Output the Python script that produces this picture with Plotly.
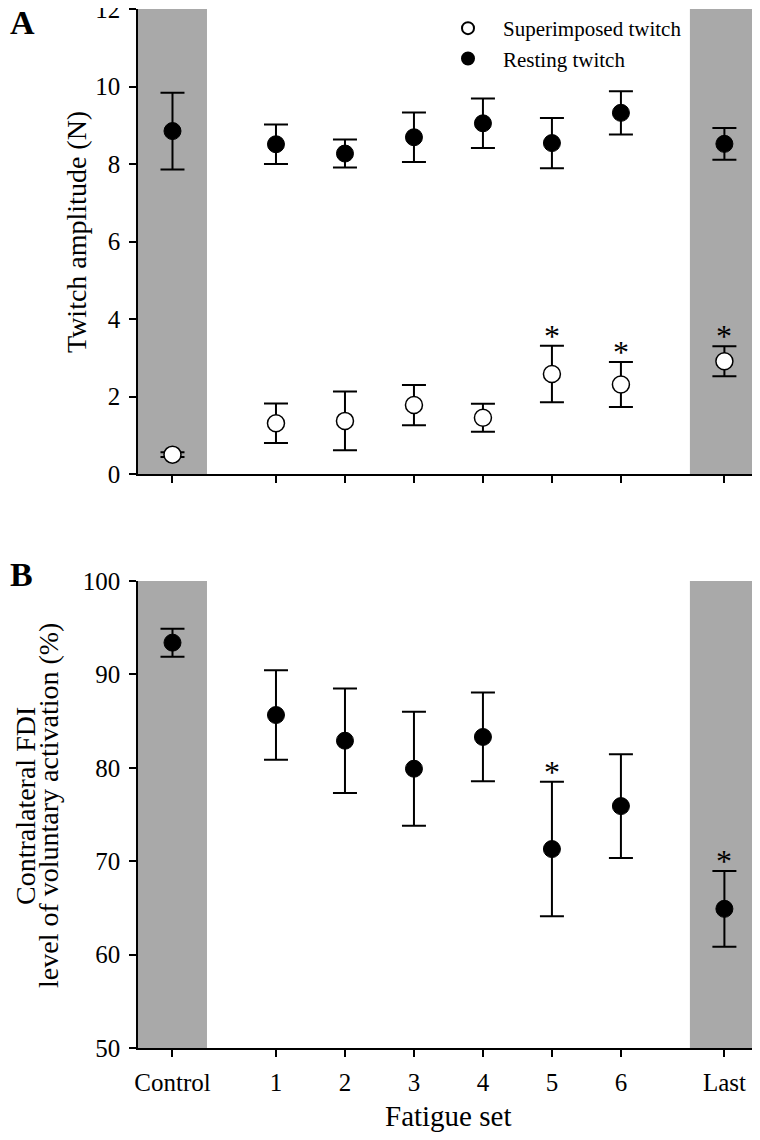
import plotly.graph_objects as go
from plotly.subplots import make_subplots

# Fatigue sets and where each sits on the (numeric) x scale
SETS = ['Control', '1', '2', '3', '4', '5', '6', 'Last']
SET_X = [-0.5, 1, 2, 3, 4, 5, 6, 7.5]

# Panel A: twitch amplitude (N)
RESTING_MEAN = [8.85, 8.51, 8.27, 8.69, 9.05, 8.54, 9.32, 8.52]
RESTING_ERR = [0.99, 0.51, 0.36, 0.64, 0.64, 0.65, 0.56, 0.41]
SUPER_MEAN = [0.50, 1.31, 1.37, 1.78, 1.45, 2.58, 2.31, 2.91]
SUPER_ERR = [0.06, 0.51, 0.76, 0.52, 0.36, 0.73, 0.58, 0.39]
SIG_TWITCH = ['5', '6', 'Last']

# Panel B: level of voluntary activation (%)
ACT_MEAN = [93.4, 85.65, 82.9, 79.9, 83.3, 71.3, 75.9, 64.9]
ACT_ERR = [1.5, 4.8, 5.6, 6.1, 4.75, 7.2, 5.55, 4.05]
SIG_ACT = ['5', 'Last']

FONT = "Liberation Serif, Times New Roman, serif"
SHADE = '#a9a9a9'
# the page body adds an 8px margin, so the figure is sized to fit inside it
W, H = 744, 1124


def px(x, y):
    """reference pixel -> paper coords"""
    return (x - 8) / W, 1 - (y - 8) / H


fig = make_subplots(rows=2, cols=1)

err_style = dict(type='data', thickness=2, width=12, color='black')

fig.add_trace(go.Scatter(
    x=SET_X, y=SUPER_MEAN, mode='markers', name='Superimposed twitch',
    error_y=dict(array=SUPER_ERR, **err_style),
    marker=dict(size=17, color='white', line=dict(color='black', width=1.5)),
), row=1, col=1)
fig.add_trace(go.Scatter(
    x=SET_X, y=RESTING_MEAN, mode='markers', name='Resting twitch',
    error_y=dict(array=RESTING_ERR, **err_style),
    marker=dict(size=17, color='black', line=dict(color='black', width=1)),
), row=1, col=1)
fig.add_trace(go.Scatter(
    x=SET_X, y=ACT_MEAN, mode='markers', showlegend=False,
    error_y=dict(array=ACT_ERR, **err_style),
    marker=dict(size=17, color='black', line=dict(color='black', width=1)),
), row=2, col=1)

# grey bands behind Control and Last
for xa, ya in [('x', 'y domain'), ('x2', 'y2 domain')]:
    for x0, x1 in [(-1, 0), (7, 7.9)]:
        fig.add_shape(type='rect', xref=xa, yref=ya, x0=x0, x1=x1, y0=0, y1=1,
                      fillcolor=SHADE, line_width=0, layer='below')

# significance asterisks
star_font = dict(size=32, family=FONT, color='black')
for s in SIG_TWITCH:
    i = SETS.index(s)
    fig.add_annotation(x=SET_X[i], y=SUPER_MEAN[i] + SUPER_ERR[i], xref='x', yref='y',
                       text='*', showarrow=False, yanchor='bottom', yshift=-10, font=star_font)
for s in SIG_ACT:
    i = SETS.index(s)
    fig.add_annotation(x=SET_X[i], y=ACT_MEAN[i] + ACT_ERR[i], xref='x2', yref='y2',
                       text='*', showarrow=False, yanchor='bottom', yshift=-10, font=star_font)

# panel letters and axis titles
def label(x, y, text, size, angle=0, xanchor='center'):
    px_x, px_y = px(x, y)
    fig.add_annotation(x=px_x, y=px_y, xref='paper', yref='paper', text=text,
                       textangle=angle, showarrow=False, xanchor=xanchor, yanchor='middle',
                       font=dict(size=size, family=FONT, color='black'))


label(8, 22, '<b>A</b>', 34, xanchor='left')
label(8, 574, '<b>B</b>', 34, xanchor='left')
label(76, 232, 'Twitch amplitude (N)', 28, angle=-90)
label(25, 806, 'Contralateral FDI', 28, angle=-90)
label(48, 806, 'level of voluntary activation (%)', 28, angle=-90)
label(448, 1116, 'Fatigue set', 29)

axis_common = dict(showgrid=False, zeroline=False, showline=True, linecolor='black',
                   linewidth=1.5, ticks='outside', ticklen=7, tickwidth=1.5,
                   tickcolor='black', automargin=False, ticklabelstandoff=4,
                   ticklabeloverflow='allow',
                   tickfont=dict(size=25, family=FONT, color='black'))

x0_, top_a = px(138, 9)
_, bot_a = px(138, 474)
_, top_b = px(138, 581)
_, bot_b = px(138, 1048)

fig.update_xaxes(range=[-1, 7.9], tickvals=SET_X, ticktext=SETS,
                 domain=[x0_, 1.0], **axis_common)
fig.update_xaxes(showticklabels=False, row=1, col=1)
fig.update_yaxes(**axis_common)
fig.update_yaxes(range=[0, 12], dtick=2, domain=[bot_a, top_a], row=1, col=1)
fig.update_yaxes(range=[50, 100], dtick=10, domain=[bot_b, top_b], row=2, col=1)

fig.update_layout(
    width=W, height=H,
    margin=dict(l=0, r=0, t=0, b=0),
    paper_bgcolor='white', plot_bgcolor='white',
    font=dict(family=FONT, color='black'),
    showlegend=True,
    legend=dict(x=425 / W, y=1.0, xanchor='left', yanchor='top',
                bgcolor='rgba(0,0,0,0)', font=dict(size=21, family=FONT, color='black'),
                itemsizing='constant', itemwidth=60, tracegroupgap=0),
)

fig.write_html("out.html")
